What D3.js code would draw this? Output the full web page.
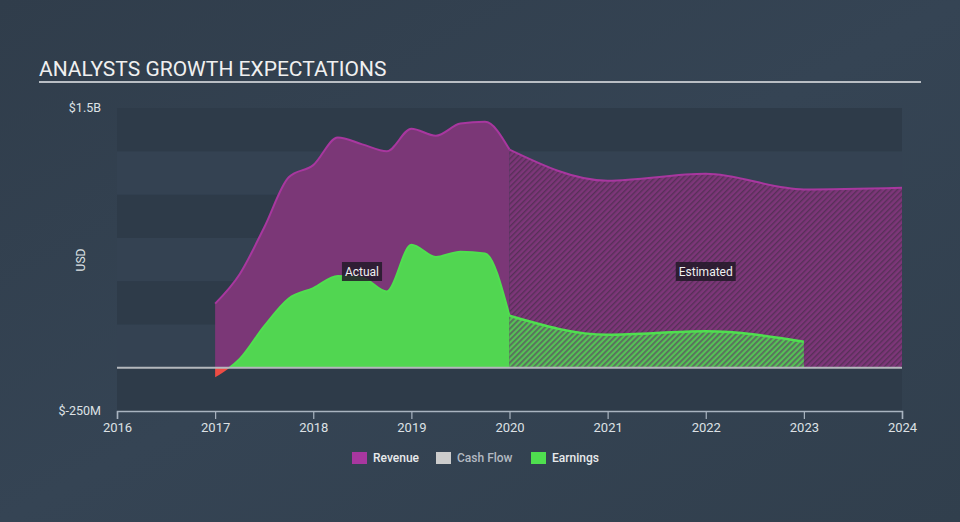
<!DOCTYPE html>
<html>
<head>
<meta charset="utf-8">
<script src="https://cdn.jsdelivr.net/npm/d3@7"></script>
<style>
  html, body { margin: 0; padding: 0; background: #344353; }
  svg { display: block; font-family: Roboto, "Open Sans", sans-serif; }
</style>
</head>
<body>
<svg id="chart" width="960" height="522"></svg>
<script>
// ---- data (values in billions USD) ----
const actualYears    = [2017.0, 2017.25, 2017.5, 2017.75, 2018.0, 2018.25, 2018.5, 2018.75, 2019.0, 2019.25, 2019.5, 2019.75, 2020.0];
const actualRevenue  = [0.37, 0.54, 0.81, 1.10, 1.17, 1.33, 1.29, 1.25, 1.38, 1.34, 1.41, 1.42, 1.26];
const actualEarnings = [-0.055, 0.05, 0.24, 0.40, 0.46, 0.53, 0.52, 0.44, 0.71, 0.64, 0.67, 0.66, 0.30];
const estRevenueYears = [2020, 2021, 2022, 2023, 2024];
const estRevenue      = [1.26, 1.08, 1.12, 1.03, 1.04];
const estEarningsYears = [2020, 2021, 2022, 2023];
const estEarnings      = [0.30, 0.19, 0.21, 0.15];
const xTicks = [2016, 2017, 2018, 2019, 2020, 2021, 2022, 2023, 2024];
const yTickLabels = ["$1.5B", "$-250M"];
const yTickValues = [1.5, -0.25];
const legendItems = ["Revenue", "Cash Flow", "Earnings"];
const legendColors = ["#a8379f", "#cccccc", "#4fdf4f"];

const svg = d3.select("#chart");
const W = 960, H = 522;

// background
const bg = svg.append("defs");
const grad = bg.append("linearGradient").attr("id", "bgGrad").attr("x1", 0).attr("y1", 0).attr("x2", 1).attr("y2", 1);
grad.append("stop").attr("offset", "0%").attr("stop-color", "#303d4b");
grad.append("stop").attr("offset", "50%").attr("stop-color", "#354454");
grad.append("stop").attr("offset", "100%").attr("stop-color", "#313f4d");
svg.append("rect").attr("width", W).attr("height", H).attr("fill", "url(#bgGrad)");

// hatch patterns
const pr = bg.append("pattern").attr("id", "hatchRev").attr("patternUnits", "userSpaceOnUse")
  .attr("width", 4).attr("height", 4).attr("patternTransform", "rotate(45)");
pr.append("rect").attr("width", 4).attr("height", 4).attr("fill", "#7d3679");
pr.append("rect").attr("x", 0).attr("width", 1.4).attr("height", 4).attr("fill", "#573058");
const pe = bg.append("pattern").attr("id", "hatchEarn").attr("patternUnits", "userSpaceOnUse")
  .attr("width", 4).attr("height", 4).attr("patternTransform", "rotate(45)");
pe.append("rect").attr("width", 4).attr("height", 4).attr("fill", "#55c255");
pe.append("rect").attr("x", 0).attr("width", 1.8).attr("height", 4).attr("fill", "#5b6b5f");

// scales
const x = d3.scaleLinear().domain([2016, 2024]).range([117, 902]);
const y = d3.scaleLinear().domain([-0.25, 1.5]).range([411, 108]);

// bands
const bandEdges = d3.range(-0.25, 1.5, 0.25);
svg.append("g").selectAll("rect").data(bandEdges).join("rect")
  .attr("x", x(2016)).attr("width", x(2024) - x(2016))
  .attr("y", d => y(d + 0.25)).attr("height", d => y(d) - y(d + 0.25))
  .attr("fill", (d, i) => (i % 2 === 0) ? "#2e3b49" : "#344252");

// title
svg.append("text").attr("x", 39).attr("y", 76).attr("fill", "#f0f0f0")
  .attr("font-size", 21).text("ANALYSTS GROWTH EXPECTATIONS");
svg.append("line").attr("x1", 39).attr("x2", 921).attr("y1", 82).attr("y2", 82)
  .attr("stroke", "#b9bec4").attr("stroke-width", 2);

// y labels
svg.append("g").selectAll("text").data(yTickValues).join("text")
  .attr("x", 101).attr("y", d => y(d) + 4).attr("text-anchor", "end")
  .attr("fill", "#dde1e5").attr("font-size", 12.5).text((d, i) => yTickLabels[i]);
svg.append("text").attr("transform", `translate(85,${260}) rotate(-90)`)
  .attr("text-anchor", "middle").attr("fill", "#dde1e5").attr("font-size", 12).text("USD");

const curve = d3.curveMonotoneX;
const zip = (xs, ys) => xs.map((v, i) => [v, ys[i]]);
const revA = zip(actualYears, actualRevenue);
const revE = zip(estRevenueYears, estRevenue);
const earnA = zip(actualYears, actualEarnings);
const earnE = zip(estEarningsYears, estEarnings);

const area = d3.area().curve(curve).x(d => x(d[0])).y0(y(0)).y1(d => y(d[1]));
const line = d3.line().curve(curve).x(d => x(d[0])).y(d => y(d[1]));

// clip for positive / negative
bg.append("clipPath").attr("id", "pos").append("rect")
  .attr("x", 0).attr("y", 0).attr("width", W).attr("height", y(0));
bg.append("clipPath").attr("id", "neg").append("rect")
  .attr("x", 0).attr("y", y(0)).attr("width", W).attr("height", H - y(0));

// revenue areas
svg.append("path").datum(revA).attr("d", area).attr("fill", "#7b3777");
svg.append("path").datum(revE).attr("d", area).attr("fill", "url(#hatchRev)");
// earnings areas
svg.append("path").datum(earnA).attr("d", area).attr("fill", "#51d651").attr("clip-path", "url(#pos)");
svg.append("path").datum(earnA).attr("d", area).attr("fill", "#ee4c44").attr("clip-path", "url(#neg)");
svg.append("path").datum(earnE).attr("d", area).attr("fill", "url(#hatchEarn)");

// lines
svg.append("path").datum(revA).attr("d", line).attr("fill", "none").attr("stroke", "#a8379f").attr("stroke-width", 2);
svg.append("path").datum(revE).attr("d", line).attr("fill", "none").attr("stroke", "#a8379f").attr("stroke-width", 2);
svg.append("path").datum(earnA).attr("d", line).attr("fill", "none").attr("stroke", "#4fdf4f").attr("stroke-width", 2).attr("clip-path", "url(#pos)");
svg.append("path").datum(earnE).attr("d", line).attr("fill", "none").attr("stroke", "#4fdf4f").attr("stroke-width", 2.5);

// zero line
svg.append("line").attr("x1", x(2016)).attr("x2", x(2024)).attr("y1", y(0)).attr("y2", y(0))
  .attr("stroke", "#b4b8bd").attr("stroke-width", 2);

// x axis
const xAxis = d3.axisBottom(x).tickValues(xTicks).tickFormat(d3.format("d")).tickSize(8).tickPadding(4);
const gx = svg.append("g").attr("transform", `translate(0,${y(-0.25)})`).call(xAxis);
gx.select(".domain").attr("stroke", "#a9b4c0").attr("stroke-width", 1.5);
gx.selectAll(".tick line").attr("stroke", "#a9b4c0").attr("stroke-width", 1.2);
gx.selectAll(".tick text").attr("fill", "#dde1e5").attr("font-size", 13).attr("font-family", "Roboto, sans-serif");

// labels
function tag(label, cx) {
  const g = svg.append("g");
  const t = g.append("text").attr("x", cx).attr("y", 276).attr("text-anchor", "middle")
    .attr("fill", "#f0f0f0").attr("font-size", 12).text(label);
  const bb = t.node().getBBox();
  g.insert("rect", "text").attr("x", bb.x - 3).attr("y", 262).attr("width", bb.width + 6).attr("height", 19)
    .attr("fill", "#221a28").attr("opacity", 0.85);
}
tag("Actual", 362);
tag("Estimated", x(2022));

// legend
const lx = [352, 436, 531];
const lg = svg.append("g");
legendItems.forEach((name, i) => {
  lg.append("rect").attr("x", lx[i]).attr("y", 452).attr("width", 15).attr("height", 12).attr("fill", legendColors[i]);
  lg.append("text").attr("x", lx[i] + 21).attr("y", 462).attr("font-size", 12).attr("font-weight", 500)
    .attr("fill", i === 1 ? "#b4bac2" : "#e8eaec").text(name);
});
</script>
</body>
</html>
